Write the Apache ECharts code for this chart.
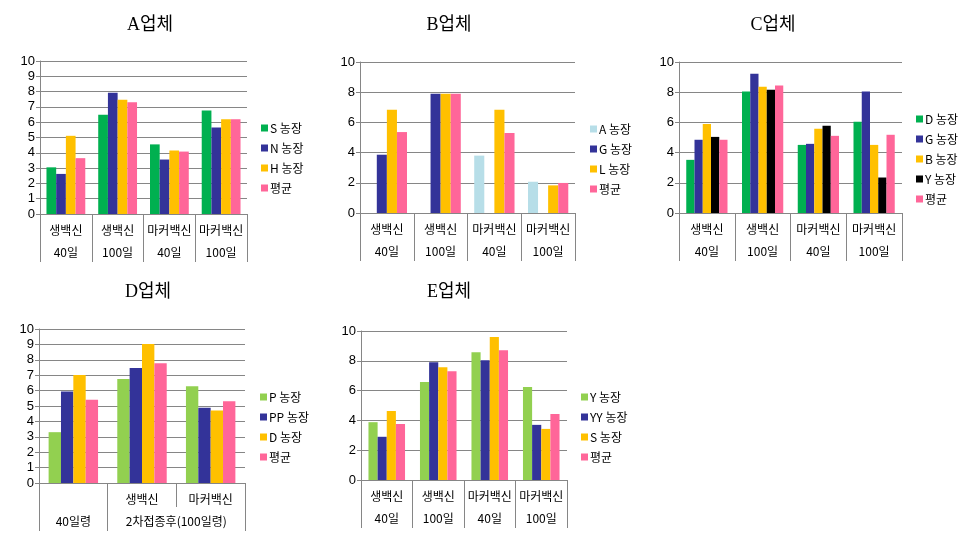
<!DOCTYPE html>
<html><head><meta charset="utf-8">
<script src="https://cdn.jsdelivr.net/npm/echarts@6/dist/echarts.min.js"></script>
<style>html,body{margin:0;padding:0;background:#fff}#c{width:963px;height:534px}</style>
</head><body><div id="c"></div><script>
// ---------- data ----------
const titles = ['A업체', 'B업체', 'C업체', 'D업체', 'E업체'];

const aCats1 = ['생백신', '생백신', '마커백신', '마커백신'];
const aCats2 = ['40일', '100일', '40일', '100일'];
const aNames = ['S 농장', 'N 농장', 'H 농장', '평균'];
const aS = [3.05, 6.48, 4.55, 6.77];
const aN = [2.62, 7.93, 3.56, 5.65];
const aH = [5.11, 7.47, 4.15, 6.2];
const aAvg = [3.65, 7.31, 4.08, 6.2];

const bCats1 = ['생백신', '생백신', '마커백신', '마커백신'];
const bCats2 = ['40일', '100일', '40일', '100일'];
const bNames = ['A 농장', 'G 농장', 'L 농장', '평균'];
const bA = [null, null, 3.8, 2.07];
const bG = [3.86, 7.9, null, null];
const bL = [6.84, 7.9, 6.84, 1.83];
const bAvg = [5.36, 7.9, 5.3, 1.99];

const cCats1 = ['생백신', '생백신', '마커백신', '마커백신'];
const cCats2 = ['40일', '100일', '40일', '100일'];
const cNames = ['D 농장', 'G 농장', 'B 농장', 'Y 농장', '평균'];
const cD = [3.52, 8.05, 4.51, 6.04];
const cG = [4.85, 9.22, 4.58, 8.05];
const cB = [5.9, 8.36, 5.58, 4.51];
const cY = [5.04, 8.16, 5.77, 2.35];
const cAvg = [4.85, 8.45, 5.11, 5.18];

const dCats1 = ['', '생백신', '마커백신'];
const dCats2 = ['40일령', '2차접종후(100일령)'];
const dNames = ['P 농장', 'PP 농장', 'D 농장', '평균'];
const dP = [3.3, 6.76, 6.29];
const dPP = [5.94, 7.47, 4.88];
const dD = [7.02, 9.03, 4.71];
const dAvg = [5.4, 7.78, 5.31];

const eCats1 = ['생백신', '생백신', '마커백신', '마커백신'];
const eCats2 = ['40일', '100일', '40일', '100일'];
const eNames = ['Y 농장', 'YY 농장', 'S 농장', '평균'];
const eY = [3.88, 6.57, 8.57, 6.24];
const eYY = [2.9, 7.91, 8.04, 3.7];
const eS = [4.63, 7.57, 9.6, 3.43];
const eAvg = [3.76, 7.3, 8.71, 4.43];

// ---------- styling / layout ----------
const GREEN = '#00B050', NAVY = '#333399', YELLOW = '#FFC000', PINK = '#FF6699',
      LBLUE = '#B7DEE8', LGREEN = '#92D050', BLACK = '#000000';
const GREY = '#868686';
const FONT = "'Noto Sans CJK KR', sans-serif";
const NUMFONT = "'Liberation Sans', sans-serif";

const panels = [
  { title: titles[0], tx: 150, ty: 25, grid: { left: 40, top: 61, width: 207, height: 153 }, yInt: 1,
    cats1: aCats1, cats2: aCats2, pos2: [0.5, 1.5, 2.5, 3.5], ticks2: [0, 1, 2, 3, 4], n: 4,
    names: aNames, values: [aS, aN, aH, aAvg], colors: [GREEN, NAVY, YELLOW, PINK],
    legend: { left: 261, top: 122 }, gap: '25%' },
  { title: titles[1], tx: 449, ty: 25, grid: { left: 360, top: 62, width: 215, height: 151 }, yInt: 2,
    cats1: bCats1, cats2: bCats2, pos2: [0.5, 1.5, 2.5, 3.5], ticks2: [0, 1, 2, 3, 4], n: 4,
    names: bNames, values: [bA, bG, bL, bAvg], colors: [LBLUE, NAVY, YELLOW, PINK],
    legend: { left: 590, top: 123 }, gap: '25%' },
  { title: titles[2], tx: 773, ty: 25, grid: { left: 679, top: 62, width: 223, height: 151 }, yInt: 2,
    cats1: cCats1, cats2: cCats2, pos2: [0.5, 1.5, 2.5, 3.5], ticks2: [0, 1, 2, 3, 4], n: 4,
    names: cNames, values: [cD, cG, cB, cY, cAvg], colors: [GREEN, NAVY, YELLOW, BLACK, PINK],
    legend: { left: 916, top: 113 }, gap: '26%' },
  { title: titles[3], tx: 148, ty: 292, grid: { left: 39, top: 329, width: 206, height: 154 }, yInt: 1,
    cats1: dCats1, cats2: dCats2, pos2: [0.5, 2], ticks2: [0, 1, 3], n: 3,
    names: dNames, values: [dP, dPP, dD, dAvg], colors: [LGREEN, NAVY, YELLOW, PINK],
    legend: { left: 260, top: 391 }, gap: '28%' },
  { title: titles[4], tx: 449, ty: 292, grid: { left: 361, top: 331, width: 206, height: 149 }, yInt: 2,
    cats1: eCats1, cats2: eCats2, pos2: [0.5, 1.5, 2.5, 3.5], ticks2: [0, 1, 2, 3, 4], n: 4,
    names: eNames, values: [eY, eYY, eS, eAvg], colors: [LGREEN, NAVY, YELLOW, PINK],
    legend: { left: 581, top: 391 }, gap: '29%' }
];

const grid = [], xAxis = [], yAxis = [], series = [], legend = [], graphic = [];
panels.forEach((p, i) => {
  grid.push(Object.assign({ containLabel: false }, p.grid));
  xAxis.push({
    type: 'category', gridIndex: i, data: p.cats1,
    axisLine: { show: true, lineStyle: { color: GREY } },
    axisTick: { show: true, interval: 0, length: 24, lineStyle: { color: GREY } },
    axisLabel: { interval: 0, fontSize: 12, color: '#000', margin: 10, fontFamily: FONT },
    splitLine: { show: false }
  });
  xAxis.push({
    type: 'value', gridIndex: i, min: 0, max: p.n, position: 'bottom', offset: 24,
    axisLine: { show: false }, splitLine: { show: false },
    axisTick: { show: true, length: 24, customValues: p.ticks2, lineStyle: { color: GREY } },
    axisLabel: {
      customValues: p.pos2, fontSize: 12, color: '#000', margin: 8, fontFamily: FONT,
      formatter: (v) => { const k = p.pos2.indexOf(v); return k >= 0 ? p.cats2[k] : ''; }
    }
  });
  yAxis.push({
    type: 'value', gridIndex: i, min: 0, max: 10, interval: p.yInt,
    axisLine: { show: true, lineStyle: { color: GREY } },
    axisTick: { show: true, length: 4, lineStyle: { color: GREY } },
    splitLine: { show: true, lineStyle: { color: GREY, width: 1 } },
    axisLabel: { fontSize: 13, color: '#000', margin: 5, fontFamily: NUMFONT }
  });
  p.names.forEach((nm, j) => {
    series.push({
      type: 'bar', name: nm, xAxisIndex: i * 2, yAxisIndex: i, data: p.values[j],
      itemStyle: { color: p.colors[j] }, barGap: '0%', barCategoryGap: p.gap, silent: true
    });
  });
  legend.push({
    orient: 'vertical', left: p.legend.left, top: p.legend.top, icon: 'rect',
    itemWidth: 7, itemHeight: 7, itemGap: 8, selectedMode: false, padding: 0,
    textStyle: { fontSize: 12, color: '#000', fontFamily: FONT, padding: [0, 0, 0, -3] },
    data: p.names.map((nm, j) => ({ name: nm, itemStyle: { color: p.colors[j] } }))
  });
  graphic.push({
    type: 'text', x: p.tx, y: p.ty, silent: true,
    style: { text: p.title, fill: '#000', font: "18px 'Liberation Serif', 'Noto Sans CJK KR', serif",
             textAlign: 'center', textVerticalAlign: 'middle' }
  });
});

const chart = echarts.init(document.getElementById('c'), null, { renderer: 'canvas' });
chart.setOption({
  backgroundColor: '#fff', animation: false,
  grid, xAxis, yAxis, series, legend, graphic
});
</script></body></html>
